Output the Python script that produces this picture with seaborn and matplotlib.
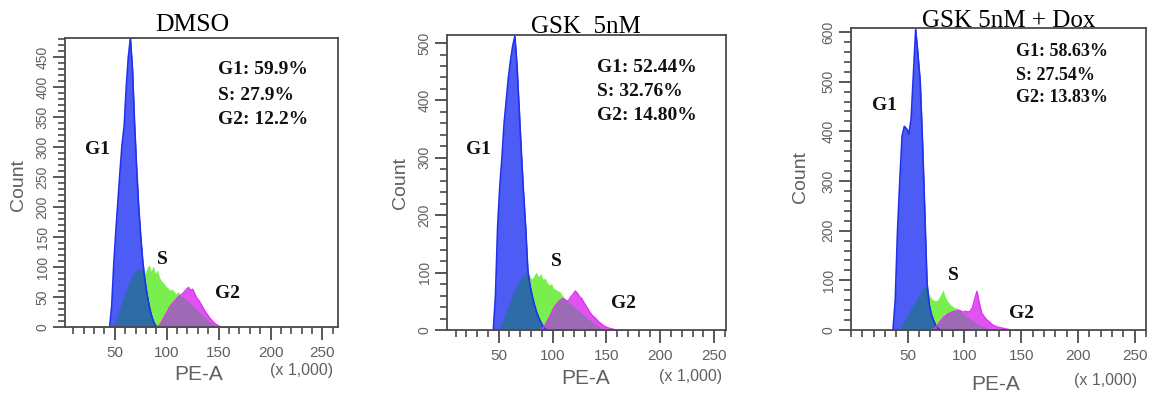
import numpy as np
import pandas as pd
import matplotlib
matplotlib.use("Agg")
import matplotlib.pyplot as plt
import seaborn as sns
from matplotlib.ticker import MultipleLocator, FixedLocator

W, H = 1153, 396

# ---------------- data ----------------
panel_titles = ["DMSO", "GSK  5nM", "GSK 5nM + Dox"]
phase_labels = ["G1", "S", "G2"]
stats_dmso = ["G1: 59.9%", "S: 27.9%", "G2: 12.2%"]
stats_gsk = ["G1: 52.44%", "S: 32.76%", "G2: 14.80%"]
stats_dox = ["G1: 58.63%", "S: 27.54%", "G2: 13.83%"]
x_tick_values = [50, 100, 150, 200, 250]
bin_width = 2  # PE-A (x 1,000) per channel

# first channel centre (PE-A x 1,000) and counts per channel
dmso_g1_start = 47
dmso_g1 = [35, 105, 160, 210, 260, 305, 335, 400, 450, 482, 430, 340, 265, 200,
           150, 108, 78, 55, 36, 21, 10, 3]
dmso_s_start = 49
dmso_s = [3, 10, 21, 32, 42, 52, 63, 71, 79, 86, 90, 94, 97, 94, 92, 89, 97, 103,
          92, 101, 89, 94, 82, 76, 73, 68, 65, 61, 63, 59, 55, 58, 52, 50, 47, 45,
          42, 38, 35, 32, 28, 25, 21, 18, 15, 12, 8, 5, 3, 1]
dmso_g2_start = 93
dmso_g2 = [3, 8, 15, 21, 27, 34, 38, 42, 46, 50, 53, 55, 59, 63, 66, 61, 63, 55,
           48, 44, 38, 32, 26, 21, 16, 12, 8, 5, 3, 1]

gsk_g1_start = 47
gsk_g1 = [60, 180, 250, 300, 360, 400, 440, 470, 495, 512, 460, 385, 310, 240,
          180, 105, 78, 60, 45, 32, 22, 14, 7, 2]
gsk_s_start = 51
gsk_s = [5, 12, 22, 32, 42, 52, 62, 70, 78, 85, 90, 95, 100, 98, 92, 88, 95, 100,
         92, 98, 88, 90, 82, 78, 80, 72, 70, 68, 66, 60, 55, 52, 48, 45, 42, 38,
         35, 32, 28, 25, 22, 19, 16, 13, 10, 8, 5, 3, 1]
gsk_g2_start = 91
gsk_g2 = [3, 8, 15, 22, 30, 38, 44, 48, 52, 55, 54, 50, 52, 58, 62, 68, 64, 58,
          55, 48, 42, 36, 30, 25, 22, 18, 14, 11, 8, 6, 4, 3, 2, 1]

dox_g1_start = 39
dox_g1 = [60, 200, 300, 390, 410, 405, 395, 425, 515, 605, 555, 500, 380, 240,
          95, 50, 30, 18, 8, 2]
dox_s_start = 43
dox_s = [3, 10, 18, 26, 34, 42, 50, 58, 65, 72, 80, 88, 82, 70, 62, 60, 58, 62,
         70, 80, 66, 58, 52, 48, 45, 44, 40, 36, 32, 28, 25, 22, 18, 15, 12, 10,
         8, 6, 4, 3, 2, 1]
dox_g2_start = 73
dox_g2 = [2, 6, 12, 18, 24, 28, 32, 34, 36, 38, 38, 40, 38, 36, 38, 36, 38, 45,
          62, 78, 55, 35, 28, 22, 18, 14, 10, 8, 6, 5, 4, 3, 2, 1]

# ---------------- style ----------------
sns.set_style("ticks")
plt.rcParams["font.family"] = ["Liberation Sans", "DejaVu Sans"]
SERIF = ["Liberation Serif", "DejaVu Serif"]

BLUE_FILL = "#4c5cf5"
BLUE_EDGE = "#2232ea"
GREEN_FILL = "#78ef4c"
MAGENTA_FILL = "#e152f2"
MAGENTA_EDGE = "#dd36ef"
TEAL = "#2e6ca8"
MAUVE = "#9d6ab5"
FRAME = "#4a4a4a"
TICKTXT = "#606060"

grid_edges = np.arange(30, 172, bin_width)
grid_centres = grid_edges[:-1] + bin_width / 2


def on_grid(start, values):
    arr = np.zeros(len(grid_centres))
    i0 = int(np.searchsorted(grid_centres, start))
    arr[i0:i0 + len(values)] = values
    return arr


panels = [
    dict(title=panel_titles[0], stats=stats_dmso,
         g1=(dmso_g1_start, dmso_g1), s=(dmso_s_start, dmso_s), g2=(dmso_g2_start, dmso_g2),
         box=(65, 38, 338, 327), xlim=(2, 265), ylim=(0, 482), ymaj=50, ymin=10,
         title_xy=(192, 31), title_fs=18.5,
         stats_xy=(218, [70, 95, 119]), stats_fs=14,
         lab_xy=[(97, 150), (162, 259), (228, 293)],
         count_xy=(18, 185), pea_xy=(199, 374), mult_xy=(302, 370)),
    dict(title=panel_titles[1], stats=stats_gsk,
         g1=(gsk_g1_start, gsk_g1), s=(gsk_s_start, gsk_s), g2=(gsk_g2_start, gsk_g2),
         box=(447, 35, 726, 330), xlim=(2, 261), ylim=(0, 514), ymaj=100, ymin=20,
         title_xy=(586, 33), title_fs=18,
         stats_xy=(597, [67, 91, 115]), stats_fs=14,
         lab_xy=[(478, 150), (556, 261), (624, 304)],
         count_xy=(400, 183), pea_xy=(586, 379), mult_xy=(691, 376)),
    dict(title=panel_titles[2], stats=stats_dox,
         g1=(dox_g1_start, dox_g1), s=(dox_s_start, dox_s), g2=(dox_g2_start, dox_g2),
         box=(851, 28, 1146, 330), xlim=(0, 260), ylim=(0, 608), ymaj=100, ymin=20,
         title_xy=(1009, 27), title_fs=18,
         stats_xy=(1016, [52, 76, 98]), stats_fs=13,
         lab_xy=[(884, 105), (953, 275), (1022, 313)],
         count_xy=(801, 177), pea_xy=(996, 384), mult_xy=(1106, 381)),
]

fig = plt.figure(figsize=(W / 100, H / 100), dpi=100)


def fx(x):
    return x / W


def fy(y):
    return 1 - y / H


def hist_layer(ax, weights, trim=False, **kw):
    centres, edges, w = grid_centres, grid_edges, weights
    if trim:
        nz = np.nonzero(weights)[0]
        i0, i1 = max(nz[0] - 1, 0), min(nz[-1] + 2, len(weights))
        centres, w = grid_centres[i0:i1], weights[i0:i1]
        edges = grid_edges[i0:i1 + 1]
    df = pd.DataFrame({"pe": centres, "n": w})
    sns.histplot(data=df, x="pe", weights="n", bins=[float(e) for e in edges],
                 element="poly", ax=ax, **kw)


for p in panels:
    l, t, r, b = p["box"]
    ax = fig.add_axes([fx(l), fy(b), (r - l) / W, (b - t) / H])

    g1 = on_grid(*p["g1"])
    s = on_grid(*p["s"])
    g2 = on_grid(*p["g2"])

    def fill(weights, color):
        hist_layer(ax, weights, fill=True, color=color, alpha=1,
                   edgecolor=color, linewidth=0.3)

    fill(s, GREEN_FILL)
    fill(g2, MAGENTA_FILL)
    fill(g1, BLUE_FILL)
    fill(np.minimum(g1, s), TEAL)
    fill(np.minimum(s, g2), MAUVE)

    hist_layer(ax, g1, trim=True, fill=False, color=BLUE_EDGE, linewidth=1.2)
    hist_layer(ax, g2, trim=True, fill=False, color=MAGENTA_EDGE, linewidth=1.0)

    ax.set_xlim(*p["xlim"])
    ax.set_ylim(*p["ylim"])
    ax.set_xlabel("")
    ax.set_ylabel("")

    ax.xaxis.set_major_locator(FixedLocator(x_tick_values))
    ax.xaxis.set_minor_locator(MultipleLocator(10))
    ax.yaxis.set_major_locator(MultipleLocator(p["ymaj"]))
    ax.yaxis.set_minor_locator(MultipleLocator(p["ymin"]))
    ax.set_xticklabels([str(v) for v in x_tick_values])
    ax.tick_params(axis="both", which="major", direction="out", length=9, width=1.3,
                   color=FRAME, labelcolor=TICKTXT)
    ax.tick_params(axis="both", which="minor", direction="out", length=5, width=1.2,
                   color=FRAME)
    ax.tick_params(axis="x", which="major", labelsize=11, pad=5)
    ax.tick_params(axis="y", which="major", labelsize=10, pad=2)
    for lab in ax.get_yticklabels():
        lab.set_rotation(90)
        lab.set_va("center")
    for sp in ax.spines.values():
        sp.set_visible(True)
        sp.set_color(FRAME)
        sp.set_linewidth(1.3)

    # titles and annotations
    fig.text(fx(p["title_xy"][0]), fy(p["title_xy"][1]), p["title"], ha="center",
             va="baseline", fontsize=p["title_fs"], family=SERIF, color="black")
    sx, sys_ = p["stats_xy"]
    for txt, yy in zip(p["stats"], sys_):
        fig.text(fx(sx), fy(yy), txt, ha="left", va="center", fontsize=p["stats_fs"],
                 family=SERIF, fontweight="bold", color="#111111")
    for lab, (lx, ly) in zip(phase_labels, p["lab_xy"]):
        fig.text(fx(lx), fy(ly), lab, ha="center", va="center", fontsize=14,
                 family=SERIF, fontweight="bold", color="#111111")
    fig.text(fx(p["count_xy"][0]), fy(p["count_xy"][1]), "Count", rotation=90,
             ha="center", va="center", fontsize=14, color=TICKTXT)
    fig.text(fx(p["pea_xy"][0]), fy(p["pea_xy"][1]), "PE-A", ha="center",
             va="center", fontsize=15, color=TICKTXT)
    fig.text(fx(p["mult_xy"][0]), fy(p["mult_xy"][1]), "(x 1,000)", ha="center",
             va="center", fontsize=11.5, color=TICKTXT)

fig.savefig("out.png", dpi=100)
